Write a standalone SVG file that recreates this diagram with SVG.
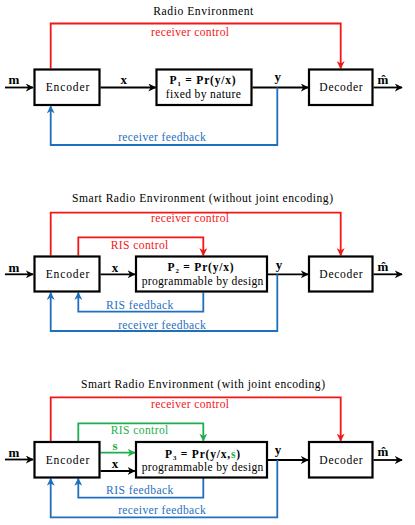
<svg xmlns="http://www.w3.org/2000/svg" width="415" height="525" viewBox="0 0 415 525">
<style>
text{font-family:'Liberation Serif','Times New Roman',serif;font-size:11.6px;fill:#000;text-anchor:middle}
.lb{font-weight:bold;font-size:13px}
.pl{font-weight:bold;font-size:11.5px;letter-spacing:0.8px}
.red{fill:#f21616}
.blue{fill:#1f6fbf}
.green{fill:#1eae4e}
.box{fill:#fff;stroke:#000;stroke-width:2.2}
.k{fill:none;stroke:#000;stroke-width:1.8}
.r{fill:none;stroke:#f21616;stroke-width:1.8}
.b{fill:none;stroke:#1f6fbf;stroke-width:1.8}
.g{fill:none;stroke:#1eae4e;stroke-width:1.8}
</style>
<defs>
<marker id="ak" viewBox="0 0 10 10" refX="9" refY="5" markerWidth="8" markerHeight="8" markerUnits="userSpaceOnUse" orient="auto"><path d="M0,0 L10,5 L0,10 L3,5 z" fill="#000"/></marker>
<marker id="ar" viewBox="0 0 10 10" refX="9" refY="5" markerWidth="8" markerHeight="8" markerUnits="userSpaceOnUse" orient="auto"><path d="M0,0 L10,5 L0,10 L3,5 z" fill="#f21616"/></marker>
<marker id="ab" viewBox="0 0 10 10" refX="9" refY="5" markerWidth="8" markerHeight="8" markerUnits="userSpaceOnUse" orient="auto"><path d="M0,0 L10,5 L0,10 L3,5 z" fill="#1f6fbf"/></marker>
<marker id="ag" viewBox="0 0 10 10" refX="9" refY="5" markerWidth="8" markerHeight="8" markerUnits="userSpaceOnUse" orient="auto"><path d="M0,0 L10,5 L0,10 L3,5 z" fill="#1eae4e"/></marker>
</defs>

<!-- Titles -->
<text x="203.3" y="15" textLength="100" lengthAdjust="spacing">Radio Environment</text>
<text x="202.5" y="201.5" textLength="261" lengthAdjust="spacing">Smart Radio Environment (without joint encoding)</text>
<text x="203" y="388" textLength="244" lengthAdjust="spacing">Smart Radio Environment (with joint encoding)</text>

<!-- Connectors -->
<g id="connectors">
<!-- panel 1 -->
<line class="k" x1="5" y1="87.5" x2="33" y2="87.5" marker-end="url(#ak)"/>
<line class="k" x1="100.5" y1="87.5" x2="155.5" y2="87.5" marker-end="url(#ak)"/>
<line class="k" x1="252.5" y1="87.5" x2="308" y2="87.5" marker-end="url(#ak)"/>
<line class="k" x1="373.5" y1="87.5" x2="402" y2="87.5" marker-end="url(#ak)"/>
<path class="r" d="M50.7,68.5 V23.5 H340.7 V68.3" marker-end="url(#ar)"/>
<path class="b" d="M277.3,87.5 V145 H50.7 V106.3" marker-end="url(#ab)"/>
<!-- panel 2 -->
<line class="k" x1="5" y1="274.3" x2="33" y2="274.3" marker-end="url(#ak)"/>
<line class="k" x1="100.5" y1="274.3" x2="134.8" y2="274.3" marker-end="url(#ak)"/>
<line class="k" x1="268" y1="274.3" x2="308" y2="274.3" marker-end="url(#ak)"/>
<line class="k" x1="373.5" y1="274.3" x2="402" y2="274.3" marker-end="url(#ak)"/>
<path class="r" d="M50.7,255.5 V212.7 H340.7 V255.3" marker-end="url(#ar)"/>
<path class="r" d="M78.3,255.5 V237.3 H203.3 V255.3" marker-end="url(#ar)"/>
<path class="b" d="M203.3,292.5 V311.7 H78.3 V292.7" marker-end="url(#ab)"/>
<path class="b" d="M277.3,274.3 V331 H50.7 V292.7" marker-end="url(#ab)"/>
<!-- panel 3 -->
<line class="k" x1="5" y1="459.5" x2="33" y2="459.5" marker-end="url(#ak)"/>
<line class="g" x1="100.5" y1="452.7" x2="134.8" y2="452.7" marker-end="url(#ag)"/>
<line class="k" x1="100.5" y1="471" x2="134.8" y2="471" marker-end="url(#ak)"/>
<line class="k" x1="268" y1="460" x2="308" y2="460" marker-end="url(#ak)"/>
<line class="k" x1="373.5" y1="460" x2="402" y2="460" marker-end="url(#ak)"/>
<path class="r" d="M50.7,441 V397.3 H340.7 V440.8" marker-end="url(#ar)"/>
<path class="g" d="M78.3,441 V423.3 H203.3 V440.8" marker-end="url(#ag)"/>
<path class="b" d="M203.3,478 V497.7 H78.3 V478.6" marker-end="url(#ab)"/>
<path class="b" d="M277.3,460 V517.3 H50.7 V478.6" marker-end="url(#ab)"/>

<!-- connector labels -->
<text class="lb" x="13.8" y="84">m</text>
<text class="lb" x="123.7" y="84">x</text>
<text class="lb" x="277.7" y="81">y</text>
<text class="lb" x="383" y="84">m&#x302;</text>
<text class="red" x="190" y="35.7" textLength="78" lengthAdjust="spacing">receiver control</text>
<text class="blue" x="162" y="140.8" textLength="87.7" lengthAdjust="spacing">receiver feedback</text>

<text class="lb" x="13.8" y="271.5">m</text>
<text class="lb" x="115" y="271.5">x</text>
<text class="lb" x="279" y="268.5">y</text>
<text class="lb" x="383" y="270.5">m&#x302;</text>
<text class="red" x="190" y="222.3" textLength="78" lengthAdjust="spacing">receiver control</text>
<text class="red" x="139.5" y="249.3" textLength="57.7" lengthAdjust="spacing">RIS control</text>
<text class="blue" x="139.7" y="309.3" textLength="67.3" lengthAdjust="spacing">RIS feedback</text>
<text class="blue" x="162" y="328.8" textLength="87.7" lengthAdjust="spacing">receiver feedback</text>

<text class="lb" x="13.8" y="456.5">m</text>
<text class="lb green" x="115" y="449.5">s</text>
<text class="lb" x="115" y="467.5">x</text>
<text class="lb" x="278" y="454">y</text>
<text class="lb" x="383" y="456">m&#x302;</text>
<text class="red" x="190" y="408.3" textLength="78" lengthAdjust="spacing">receiver control</text>
<text class="green" x="139.5" y="434.3" textLength="57.7" lengthAdjust="spacing">RIS control</text>
<text class="blue" x="139.7" y="494.3" textLength="67.3" lengthAdjust="spacing">RIS feedback</text>
<text class="blue" x="162" y="513.8" textLength="87.7" lengthAdjust="spacing">receiver feedback</text>
</g>

<!-- Panel 1 nodes -->
<g id="enc1"><rect class="box" x="34.5" y="69.5" width="65" height="35.5"/><text x="67.5" y="90.8" textLength="43.7" lengthAdjust="spacing">Encoder</text></g>
<g id="ch1"><rect class="box" x="156.5" y="69.5" width="95" height="35.5"/>
<text class="pl" x="203" y="84">P₁ = Pr(y/x)</text>
<text x="203.3" y="98" textLength="75" lengthAdjust="spacing">fixed by nature</text></g>
<g id="dec1"><rect class="box" x="309" y="69.5" width="63.5" height="35.5"/><text x="341" y="90.8" textLength="43.3" lengthAdjust="spacing">Decoder</text></g>

<!-- Panel 2 nodes -->
<g id="enc2"><rect class="box" x="34.5" y="256.5" width="65" height="35"/><text x="67.5" y="278" textLength="43.7" lengthAdjust="spacing">Encoder</text></g>
<g id="ch2"><rect class="box" x="136" y="256.5" width="131" height="35"/>
<text class="pl" x="201" y="271">P₂ = Pr(y/x)</text>
<text x="202.5" y="285" textLength="121.7" lengthAdjust="spacing">programmable by design</text></g>
<g id="dec2"><rect class="box" x="309" y="256.5" width="63.5" height="35"/><text x="341" y="278" textLength="43.3" lengthAdjust="spacing">Decoder</text></g>

<!-- Panel 3 nodes -->
<g id="enc3"><rect class="box" x="34.5" y="442" width="65" height="35.5"/><text x="67.5" y="463.8" textLength="43.7" lengthAdjust="spacing">Encoder</text></g>
<g id="ch3"><rect class="box" x="136" y="442" width="131" height="35.5"/>
<text class="pl" x="203" y="458">P₃ = Pr(y/x,<tspan class="green">s</tspan>)</text>
<text x="202.5" y="470.5" textLength="121.7" lengthAdjust="spacing">programmable by design</text></g>
<g id="dec3"><rect class="box" x="309" y="442" width="63.5" height="35.5"/><text x="341" y="463.8" textLength="43.3" lengthAdjust="spacing">Decoder</text></g>
</svg>
